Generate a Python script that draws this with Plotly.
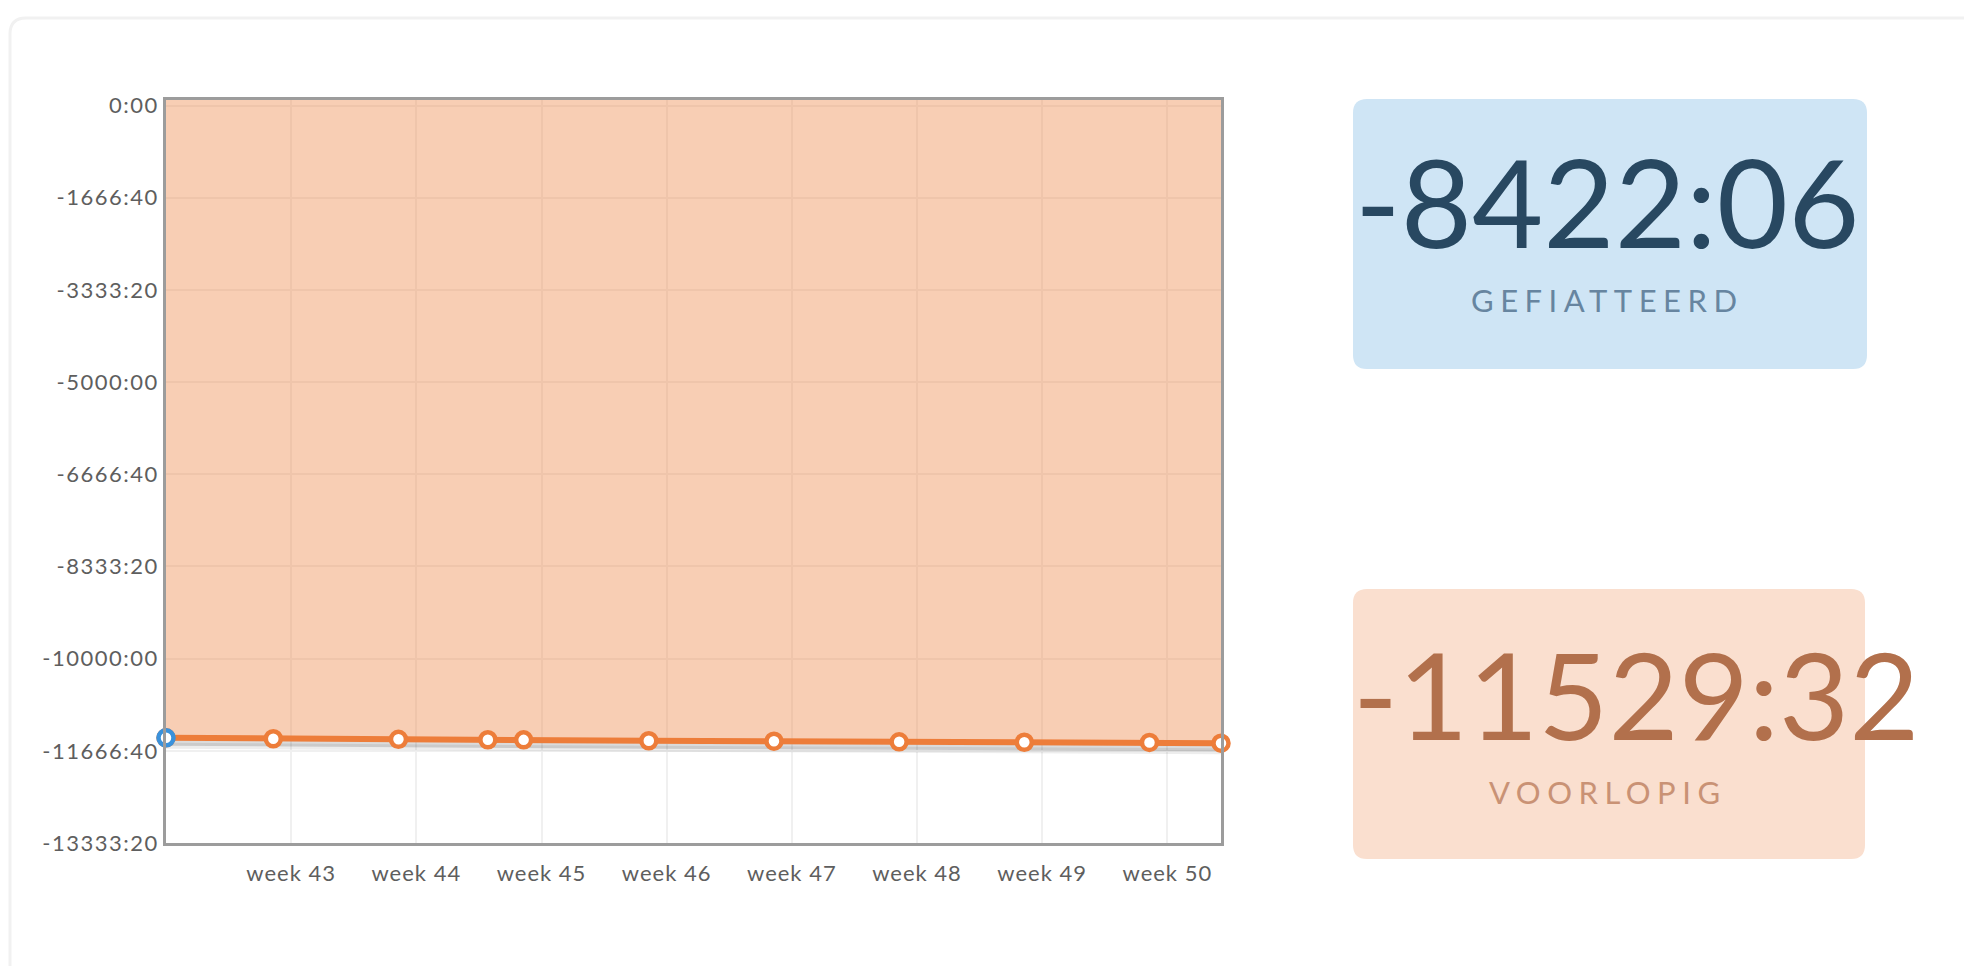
import plotly.graph_objects as go

# ---------------- data ----------------
dates = ["2014-10-13", "2014-10-19", "2014-10-26", "2014-10-31", "2014-11-02",
         "2014-11-09", "2014-11-16", "2014-11-23", "2014-11-30", "2014-12-07",
         "2014-12-11"]
voorlopig_minutes = [-685900, -686900, -687500, -688000, -688100, -689100,
                     -689600, -690200, -690700, -690900, -691772]
gefiatteerd_dates = ["2014-10-13"]
gefiatteerd_minutes = [-685900]

week_ticks = ["2014-10-20", "2014-10-27", "2014-11-03", "2014-11-10",
              "2014-11-17", "2014-11-24", "2014-12-01", "2014-12-08"]
week_labels = ["week 43", "week 44", "week 45", "week 46",
               "week 47", "week 48", "week 49", "week 50"]

y_ticks = [0, -100000, -200000, -300000, -400000, -500000, -600000, -700000, -800000]
y_labels = ["0:00", "-1666:40", "-3333:20", "-5000:00", "-6666:40",
            "-8333:20", "-10000:00", "-11666:40", "-13333:20"]

gefiatteerd_total = "-8422:06"
voorlopig_total = "-11529:32"
gefiatteerd_label = "GEFIATTEERD"
voorlopig_label = "VOORLOPIG"

x_range = ["2014-10-13", "2014-12-11"]

# ---------------- layout geometry ----------------
W, H = 1964, 966
ML, MR, MT, MB = 166, 743, 100, 123
PW, PH = W - ML - MR, H - MT - MB
PLOT_BOTTOM = H - MB
TOP_PAD_PX = 5.5  # axis extends a little above 0:00

unit = (y_ticks[0] - y_ticks[-1]) / (PH - TOP_PAD_PX)  # data units per pixel
y_range = [y_ticks[-1], y_ticks[0] + TOP_PAD_PX * unit]


def X(px):
    return (px - ML) / PW


def Y(py):
    return (PLOT_BOTTOM - py) / PH


def rrect(x0, y0, x1, y1, r):
    return (f"M {X(x0 + r)},{Y(y0)} L {X(x1 - r)},{Y(y0)} "
            f"Q {X(x1)},{Y(y0)} {X(x1)},{Y(y0 + r)} L {X(x1)},{Y(y1 - r)} "
            f"Q {X(x1)},{Y(y1)} {X(x1 - r)},{Y(y1)} L {X(x0 + r)},{Y(y1)} "
            f"Q {X(x0)},{Y(y1)} {X(x0)},{Y(y1 - r)} L {X(x0)},{Y(y0 + r)} "
            f"Q {X(x0)},{Y(y0)} {X(x0 + r)},{Y(y0)} Z")


def spaced(t, px):
    return f'<span style="letter-spacing:{px}px">{t}</span>'


ORANGE = "rgb(237,125,58)"

fig = go.Figure()

# invisible carrier trace so the base axes (ticks, grid, border) are drawn
fig.add_trace(go.Scatter(x=dates, y=voorlopig_minutes, mode="lines", yaxis="y",
                         line=dict(color="rgba(0,0,0,0)", width=0),
                         hoverinfo="skip", showlegend=False))

# shadows (on shifted overlay axes)
fig.add_trace(go.Scatter(x=dates, y=voorlopig_minutes, mode="lines", yaxis="y2",
                         line=dict(color="rgba(0,0,0,0.14)", width=6),
                         hoverinfo="skip", showlegend=False))
fig.add_trace(go.Scatter(x=dates, y=voorlopig_minutes, mode="lines", yaxis="y3",
                         line=dict(color="rgba(0,0,0,0.07)", width=6),
                         hoverinfo="skip", showlegend=False))

# fill boundary at the top of the plotting area
fig.add_trace(go.Scatter(x=[dates[0], dates[-1]], y=[y_range[1], y_range[1]],
                         mode="lines", yaxis="y4",
                         line=dict(color="rgba(0,0,0,0)", width=0),
                         hoverinfo="skip", showlegend=False))
# main series
fig.add_trace(go.Scatter(x=dates, y=voorlopig_minutes, mode="lines", yaxis="y4",
                         fill="tonexty", fillcolor="rgba(237,125,58,0.38)",
                         line=dict(color=ORANGE, width=6),
                         hoverinfo="skip", showlegend=False))
fig.add_trace(go.Scatter(x=dates, y=voorlopig_minutes, mode="markers", yaxis="y4",
                         marker=dict(size=15, color="white",
                                     line=dict(color=ORANGE, width=4.5)),
                         cliponaxis=False, name="Voorlopig", showlegend=False))
fig.add_trace(go.Scatter(x=gefiatteerd_dates, y=gefiatteerd_minutes, mode="markers",
                         yaxis="y4",
                         marker=dict(size=15, color="white",
                                     line=dict(color="rgb(58,146,220)", width=4.5)),
                         cliponaxis=False, name="Gefiatteerd", showlegend=False))

shapes = [
    # card border
    dict(type="path", xref="paper", yref="paper",
         path=rrect(10, 18, 2100, 1100, 16),
         line=dict(color="#f1f1f1", width=3), fillcolor="rgba(0,0,0,0)"),
    # summary boxes
    dict(type="path", xref="paper", yref="paper",
         path=rrect(1353, 99, 1867, 369, 14),
         line=dict(width=0), fillcolor="#cfe5f5"),
    dict(type="path", xref="paper", yref="paper",
         path=rrect(1353, 589, 1865, 859, 14),
         line=dict(width=0), fillcolor="#fadfcf"),
]

annotations = [
    dict(xref="paper", yref="paper", x=X(1607), y=Y(201), xanchor="center",
         yanchor="middle", text=gefiatteerd_total, showarrow=False,
         font=dict(family="Lato", size=123, color="#284861")),
    dict(xref="paper", yref="paper", x=X(1607), y=Y(300), xanchor="center",
         yanchor="middle", showarrow=False,
         text=spaced(gefiatteerd_label, 6.5),
         font=dict(family="Lato", size=31, color="#6785a0")),
    dict(xref="paper", yref="paper", x=X(1351), y=Y(693), xanchor="left",
         yanchor="middle", text=voorlopig_total, showarrow=False,
         font=dict(family="Lato", size=121, color="#b2704c")),
    dict(xref="paper", yref="paper", x=X(1608), y=Y(792), xanchor="center",
         yanchor="middle", showarrow=False,
         text=spaced(voorlopig_label, 6.5),
         font=dict(family="Lato", size=31, color="#c99275")),
]

axis_font = dict(family="Lato", size=22, color="#5e5e5e")

fig.update_layout(
    width=W, height=H, autosize=False,
    margin=dict(l=ML, r=MR, t=MT, b=MB),
    paper_bgcolor="white", plot_bgcolor="white",
    showlegend=False, hovermode=False,
    shapes=shapes, annotations=annotations,
    xaxis=dict(type="date", range=x_range, tickvals=week_ticks,
               ticktext=[spaced(t, 1) for t in week_labels],
               showgrid=True, gridcolor="#f0f0f0", gridwidth=2,
               showline=True, linecolor="#9c9c9c", linewidth=2.5, mirror=True,
               ticks="", tickfont=axis_font, ticklabelstandoff=9, zeroline=False),
    yaxis=dict(range=y_range, tickvals=y_ticks,
               ticktext=[spaced(t, 1.5) for t in y_labels],
               showgrid=True, gridcolor="#f0f0f0", gridwidth=2,
               showline=True, linecolor="#9c9c9c", linewidth=2.5, mirror=True,
               ticks="", tickfont=axis_font, ticklabelstandoff=0, zeroline=False),
    yaxis2=dict(overlaying="y", visible=False,
                range=[y_range[0] + 5 * unit, y_range[1] + 5 * unit]),
    yaxis3=dict(overlaying="y", visible=False,
                range=[y_range[0] + 8 * unit, y_range[1] + 8 * unit]),
    yaxis4=dict(overlaying="y", visible=False, range=y_range),
)

fig.write_html("out.html", config={"displayModeBar": False},
               post_script="document.body.style.margin='0';document.body.style.overflow='hidden';")
